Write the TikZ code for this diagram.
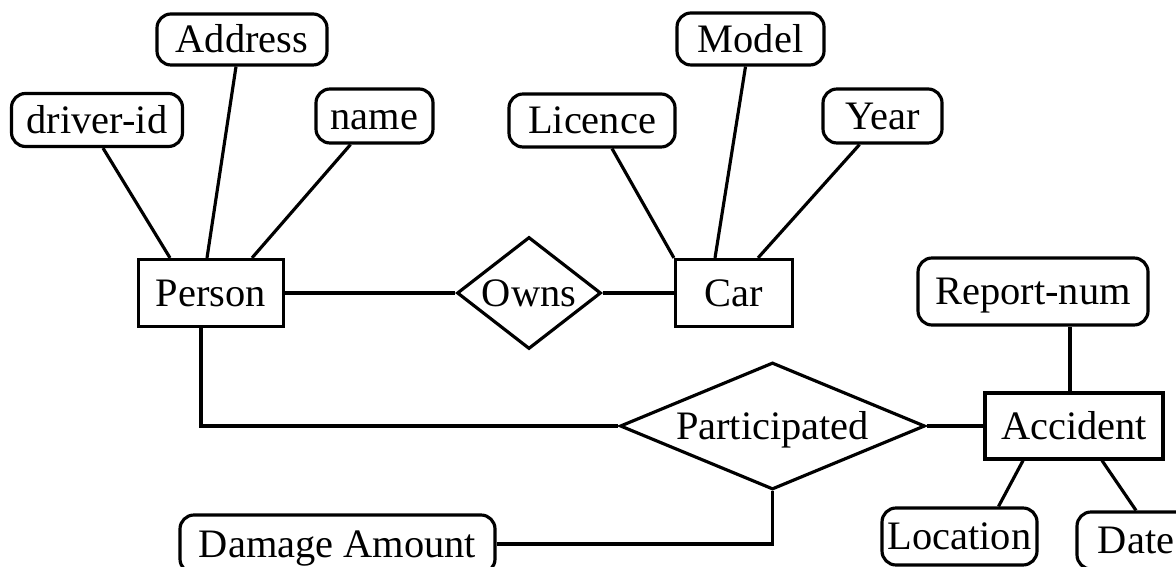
\documentclass[tikz,border=0pt]{standalone}
\usepackage{fontspec}
\setmainfont{Liberation Serif}
\usepackage{tikz}
\usetikzlibrary{shapes.geometric}
\newcommand*{\erfont}{\fontsize{11.5}{14}\selectfont}
\tikzset{%
  entity/.style={draw, rectangle, inner sep=0pt, text height=7.6pt, text depth=0pt,
    line width=0.9pt, font=\erfont},% entity set
  attrib/.style={entity, rounded corners=1.4mm},% attribute
  relation/.style={entity, diamond},% relationship
  link/.style={line width=0.9pt}% connector
}

\begin{document}
\begin{tikzpicture}
\clip (0, 0) rectangle (11.76, -5.67);

\node[entity, minimum width=1.45cm, minimum height=0.67cm] (per) at (2.11, -2.93) {Person};
\node[entity, minimum width=1.17cm, minimum height=0.67cm] (car) at (7.34, -2.93) {Car};
\node[entity, minimum width=1.78cm, minimum height=0.66cm] (acc) at (10.74, -4.26) {Accident};

\node[relation, aspect=1.3, minimum width=1.44cm, minimum height=1.12cm] (own) at (5.29, -2.93) {Owns};
\node[relation, aspect=2.4, minimum width=3.05cm, minimum height=1.27cm] (par) at (7.725, -4.26) {Participated};

\node[attrib, minimum width=1.71cm, minimum height=0.53cm] (drv) at (0.97, -1.20) {driver-id};
\node[attrib, minimum width=1.70cm, minimum height=0.51cm] (adr) at (2.42, -0.395) {Address};
\node[attrib, minimum width=1.17cm, minimum height=0.54cm] (nam) at (3.745, -1.16) {name};
\node[attrib, minimum width=1.66cm, minimum height=0.53cm] (lic) at (5.92, -1.205) {Licence};
\node[attrib, minimum width=1.47cm, minimum height=0.52cm] (mod) at (7.505, -0.39) {Model};
\node[attrib, minimum width=1.19cm, minimum height=0.54cm] (yr)  at (8.825, -1.16) {Year};
\node[attrib, minimum width=2.30cm, minimum height=0.67cm] (rep) at (10.33, -2.915) {Report-num};
\node[attrib, minimum width=1.55cm, minimum height=0.57cm] (loc) at (9.595, -5.365) {Location};
\node[attrib, minimum width=1.18cm, minimum height=0.57cm] (dat) at (11.36, -5.405) {Date};
\node[attrib, minimum width=3.15cm, minimum height=0.58cm] (dmg) at (3.375, -5.44) {Damage Amount};

% attributes
\draw[link] ([xshift=0.6mm]drv.south) -- ([xshift=-4.1mm]per.north);
\draw[link] ([xshift=-0.6mm]adr.south) -- ([xshift=-0.4mm]per.north);
\draw[link] ([xshift=-2.4mm]nam.south) -- ([xshift=4.1mm]per.north);
\draw[link] ([xshift=2.0mm]lic.south) -- (car.north west);
\draw[link] ([xshift=-0.5mm]mod.south) -- ([xshift=-1.9mm]car.north);
\draw[link] ([xshift=-2.3mm]yr.south) -- ([xshift=2.4mm]car.north);
\draw[link] ([xshift=-0.4mm]acc.north) -- ([xshift=-0.4mm]acc.north |- rep.south);
\draw[link] ([xshift=-5.1mm]acc.south) -- ([xshift=3.9mm]loc.north);
\draw[link] ([xshift=2.8mm]acc.south) -- (dat.north);
\draw[link] (par.south) |- (dmg.east);

% relationships
\draw[link] (per.east) -- (own.west);
\draw[link] (own.east) -- (car.west);
\draw[link] ([xshift=-1mm]per.south) |- (par.west);
\draw[link] (par.east) -- (acc.west);

\end{tikzpicture}
\end{document}
